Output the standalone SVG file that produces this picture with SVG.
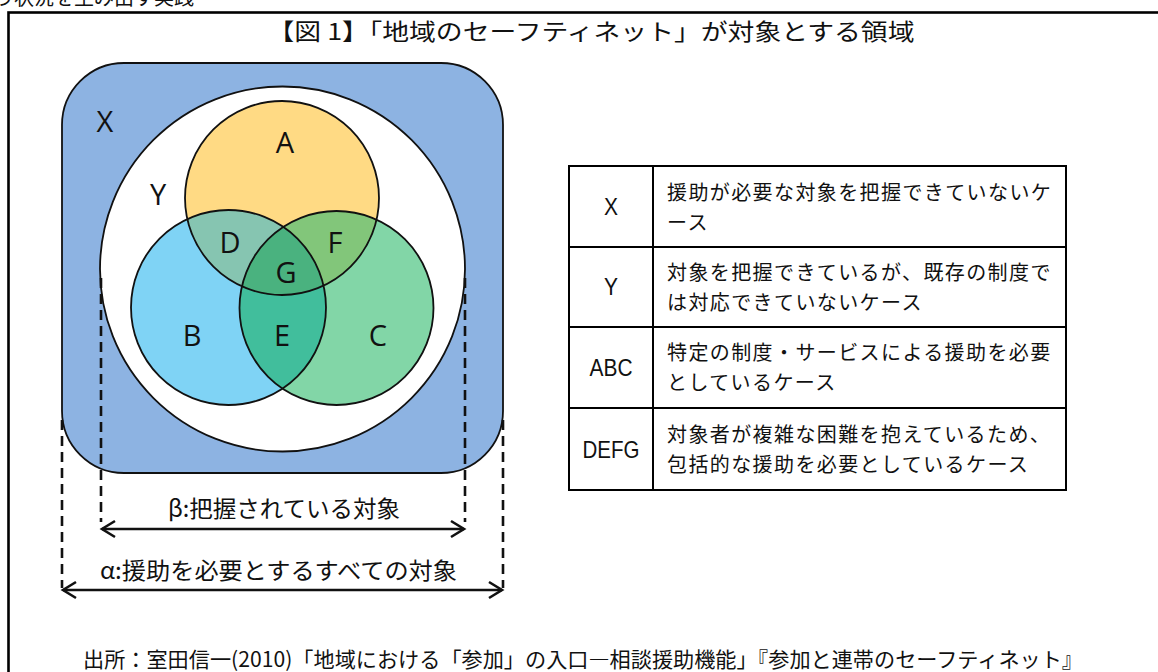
<svg xmlns="http://www.w3.org/2000/svg" width="1158" height="672" viewBox="0 0 1158 672">
<style>
.cj{font-family:"Noto Sans CJK JP","Noto Sans",sans-serif;fill:#111}
.lb{font-family:"Open Sans","Noto Sans",sans-serif;font-size:29px;fill:#111;text-anchor:middle}
.tl{font-family:"Liberation Sans",Arial,sans-serif;font-size:24px;fill:#111;text-anchor:middle}
.tr{font-family:"Noto Sans CJK JP",sans-serif;font-size:20px;fill:#111;letter-spacing:1.4px}
.ol{fill:none;stroke:#111;stroke-width:1.8}
.dash{stroke:#111;stroke-width:2.6;stroke-dasharray:10 6;fill:none}
.arr{stroke:#111;stroke-width:2.4;fill:none;marker-start:url(#chev);marker-end:url(#chev)}
.grid{stroke:#000;stroke-width:2;fill:none}
</style>
<defs>
<marker id="chev" viewBox="-16 -10 18 20" refX="0" refY="0" markerWidth="18" markerHeight="20" markerUnits="userSpaceOnUse" orient="auto-start-reverse" overflow="visible">
<path d="M-13,-8 L0,0 L-13,8" fill="none" stroke="#111" stroke-width="2.6" stroke-linejoin="miter"/>
</marker>
<clipPath id="cA"><circle cx="282" cy="198" r="97"/></clipPath>
<clipPath id="cB"><circle cx="228.5" cy="307.5" r="97.5"/></clipPath>
<clipPath id="cC"><circle cx="336.5" cy="308" r="97"/></clipPath>
</defs>
<rect width="1158" height="672" fill="#fff"/>
<text class="cj" x="-6" y="5" font-size="20">う状況を生み出す実践</text>
<rect x="8.5" y="12.5" width="1160" height="680" fill="none" stroke="#000" stroke-width="2.6"/>
<text class="cj" x="591" y="40" font-size="23" text-anchor="middle" textLength="647" lengthAdjust="spacingAndGlyphs">【図 1】「地域のセーフティネット」が対象とする領域</text>

<g id="venn">
<g id="nodeX">
<rect x="62" y="63" width="441" height="410" rx="62" fill="#8DB3E2" stroke="#111" stroke-width="1.8"/>
<text class="lb" x="105" y="132">X</text>
</g>
<g id="nodeY">
<circle cx="282.5" cy="269" r="182.5" fill="#fff" stroke="#111" stroke-width="1.8"/>
<text class="lb" x="158" y="205">Y</text>
</g>
<g id="nodeABC">
<circle cx="282" cy="198" r="97" fill="#FFDA84"/>
<circle cx="228.5" cy="307.5" r="97.5" fill="#7FD3F5"/>
<circle cx="336.5" cy="308" r="97" fill="#82D6A7"/>
<g clip-path="url(#cA)">
<circle cx="228.5" cy="307.5" r="97.5" fill="#86C5B1"/>
<circle cx="336.5" cy="308" r="97" fill="#82C67A"/>
</g>
<g clip-path="url(#cB)">
<circle cx="336.5" cy="308" r="97" fill="#41BE9C"/>
</g>
<g clip-path="url(#cA)"><g clip-path="url(#cB)">
<circle cx="336.5" cy="308" r="97" fill="#4AB27F"/>
</g></g>
<circle class="ol" cx="282" cy="198" r="97"/>
<circle class="ol" cx="228.5" cy="307.5" r="97.5"/>
<circle class="ol" cx="336.5" cy="308" r="97"/>
<text class="lb" x="285" y="153">A</text>
<text class="lb" x="192" y="346">B</text>
<text class="lb" x="378" y="346">C</text>
<text class="lb" x="230" y="253">D</text>
<text class="lb" x="282" y="346">E</text>
<text class="lb" x="335" y="253">F</text>
<text class="lb" x="286" y="283">G</text>
</g>
</g>

<g id="connectors">
<line class="dash" x1="101" y1="278" x2="101" y2="522"/>
<line class="dash" x1="465" y1="278" x2="465" y2="522"/>
<line class="dash" x1="62" y1="420" x2="62" y2="588"/>
<line class="dash" x1="503" y1="420" x2="503" y2="588"/>
<line class="arr" x1="102" y1="529" x2="464" y2="529"/>
<line class="arr" x1="63" y1="590" x2="502" y2="590"/>
</g>
<g id="labelBeta"><text class="cj" x="168" y="517" font-size="23" textLength="232" lengthAdjust="spacingAndGlyphs">β:把握されている対象</text></g>
<g id="labelAlpha"><text class="cj" x="100" y="579" font-size="23" textLength="357" lengthAdjust="spacingAndGlyphs">α:援助を必要とするすべての対象</text></g>

<g id="table">
<rect class="grid" x="569" y="166" width="497" height="324"/>
<line class="grid" x1="653" y1="166" x2="653" y2="490"/>
<line class="grid" x1="569" y1="247" x2="1066" y2="247"/>
<line class="grid" x1="569" y1="327" x2="1066" y2="327"/>
<line class="grid" x1="569" y1="408" x2="1066" y2="408"/>
<g id="rowX"><text class="tl" x="611" y="215" textLength="14" lengthAdjust="spacingAndGlyphs">X</text>
<text class="tr" x="667" y="200">援助が必要な対象を把握できていないケ</text>
<text class="tr" x="667" y="230">ース</text></g>
<g id="rowY"><text class="tl" x="611" y="295" textLength="14" lengthAdjust="spacingAndGlyphs">Y</text>
<text class="tr" x="667" y="280">対象を把握できているが、既存の制度で</text>
<text class="tr" x="667" y="310">は対応できていないケース</text></g>
<g id="rowABC"><text class="tl" x="611" y="376" textLength="43" lengthAdjust="spacingAndGlyphs">ABC</text>
<text class="tr" x="667" y="360">特定の制度・サービスによる援助を必要</text>
<text class="tr" x="667" y="390">としているケース</text></g>
<g id="rowDEFG"><text class="tl" x="611" y="458" textLength="57" lengthAdjust="spacingAndGlyphs">DEFG</text>
<text class="tr" x="667" y="442">対象者が複雑な困難を抱えているため、</text>
<text class="tr" x="667" y="472">包括的な援助を必要としているケース</text></g>
</g>

<text class="cj" x="83" y="667" font-size="21" textLength="1000" lengthAdjust="spacingAndGlyphs">出所：室田信一(2010)「地域における「参加」の入口―相談援助機能」『参加と連帯のセーフティネット』</text>
</svg>
